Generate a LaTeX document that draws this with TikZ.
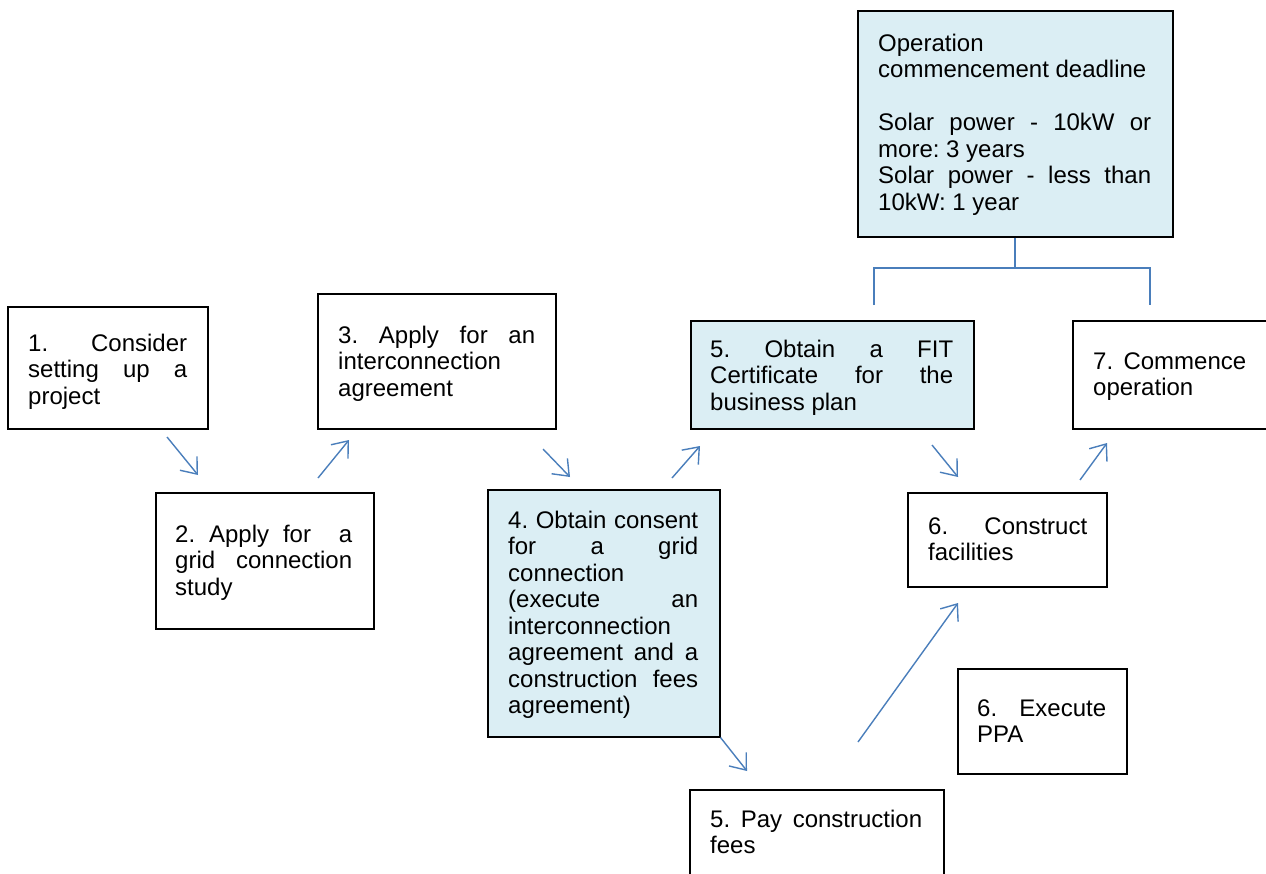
\documentclass[tikz,border=0pt]{standalone}
\usepackage{fontspec}
\setmainfont{Liberation Sans}[Ligatures=NoCommon]
\usetikzlibrary{arrows.meta}
\definecolor{boxfill}{HTML}{DBEEF4}
\definecolor{arrblue}{HTML}{4A7EBB}
\tikzset{
  box/.style={draw=black, line width=1.5pt, inner sep=0pt, anchor=north west},
  filled/.style={box, fill=boxfill},
  txt/.style={anchor=base west, inner sep=0pt, align=justify, font=\fontsize{24}{26.5}\selectfont\frenchspacing},
  arr/.style={draw=arrblue, line width=1.4pt, -{Straight Barb[length=14pt,width=22pt,line width=1.4pt]}},
  link/.style={draw=arrblue, line width=1.6pt}
}
\begin{document}
\begin{tikzpicture}[x=1pt,y=-1pt]
\useasboundingbox (0,0) rectangle (1266,873);
% boxes
\node[box, minimum width=200, minimum height=122] (b1) at (7,306) {};
\node[box, minimum width=218, minimum height=136] (b2) at (155,492) {};
\node[box, minimum width=238, minimum height=135] (b3) at (317,293) {};
\node[filled, minimum width=232, minimum height=247] (b4) at (487,489) {};
\node[filled, minimum width=283, minimum height=108] (b5) at (690,320) {};
\node[box, minimum width=199, minimum height=94] (b6) at (907,492) {};
\node[box, minimum width=210, minimum height=108] (b7) at (1072,320) {};
\node[filled, minimum width=315, minimum height=226] (top) at (857,10) {};
\node[box, minimum width=254, minimum height=100] (pay) at (689,789) {};
\node[box, minimum width=169, minimum height=105] (ppa) at (957,668) {};
% texts
\node[txt, text width=159] (t1) at (28,351) {1. Consider\linebreak setting up a\linebreak project};
\node[txt, text width=177] (t2) at (175,542) {2. Apply for~~a\linebreak grid connection\linebreak study};
\node[txt, text width=197] (t3) at (338,343) {3. Apply for an\linebreak interconnection\linebreak agreement};
\node[txt, text width=190] (t4) at (508,528) {4. Obtain consent\linebreak for a grid\linebreak connection\linebreak (execute an\linebreak interconnection\linebreak agreement and a\linebreak construction fees\linebreak agreement)};
\node[txt, text width=243] (t5) at (710,357) {5. Obtain a FIT\linebreak Certificate for the\linebreak business plan};
\node[txt, text width=159] (t6) at (928,534) {6. Construct\linebreak facilities};
\node[txt, text width=153] (t7) at (1093,369) {7. Commence\linebreak operation};
\node[txt, text width=273] (ttop) at (878,51) {Operation\linebreak commencement deadline\par\mbox{}\par Solar power - 10kW or\linebreak more: 3 years\par Solar power - less than\linebreak 10kW: 1 year};
\node[txt, text width=212] (tpay) at (710,827) {5. Pay construction\linebreak fees};
\node[txt, text width=129] (tppa) at (977,716) {6. Execute\linebreak PPA};
% bracket connector from the deadline box
\coordinate (barL) at (874,268);
\coordinate (barR) at (1150,268);
\coordinate (endL) at (874,305);
\coordinate (endR) at (1150,305);
\draw[link] (top.south) -- (top.south |- barL);
\draw[link] (endL) -- (barL) -- (barR) -- (endR);
% arrows
\coordinate (a1s) at (167,437); \coordinate (a1e) at (198,475);
\coordinate (a2s) at (318,478); \coordinate (a2e) at (349,440);
\coordinate (a3s) at (543,449); \coordinate (a3e) at (570,477);
\coordinate (a4s) at (672,478); \coordinate (a4e) at (700,446);
\coordinate (a5s) at (932,445); \coordinate (a5e) at (958,477);
\coordinate (a6s) at (1080,480); \coordinate (a6e) at (1107,443);
\coordinate (a7e) at (747,771);
\coordinate (a8s) at (858,742); \coordinate (a8e) at (958,603);
\draw[arr] (a1s) -- (a1e);
\draw[arr] (a2s) -- (a2e);
\draw[arr] (a3s) -- (a3e);
\draw[arr] (a4s) -- (a4e);
\draw[arr] (a5s) -- (a5e);
\draw[arr] (a6s) -- (a6e);
\draw[arr] (b4.south east) -- (a7e);
\draw[arr] (a8s) -- (a8e);
\end{tikzpicture}
\end{document}
